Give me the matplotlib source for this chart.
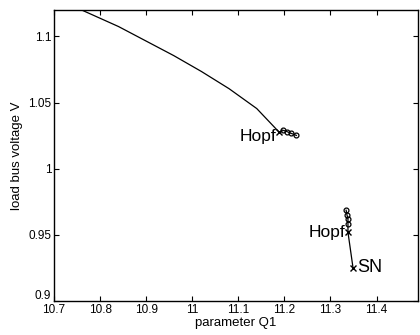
import matplotlib
matplotlib.use("Agg")
import matplotlib.pyplot as plt
from matplotlib.transforms import offset_copy, ScaledTranslation

plt.rcParams['font.family'] = ['Liberation Sans', 'DejaVu Sans']

# upper branch (continuation curve)
upper_q = [10.76, 10.84, 10.90, 10.96, 11.02, 11.08, 11.14, 11.189]
upper_v = [1.12, 1.1075, 1.0965, 1.0855, 1.0735, 1.0605, 1.0455, 1.0275]
# oscillation circles after upper Hopf
upper_circ_q = [11.198, 11.206, 11.215, 11.226]
upper_circ_v = [1.029, 1.028, 1.0267, 1.0252]
hopf1 = (11.189, 1.0275)

# lower branch
lower_circ_q = [11.334, 11.336, 11.338, 11.338]
lower_circ_v = [0.9686, 0.9649, 0.962, 0.958]
hopf2 = (11.338, 0.952)
sn = (11.349, 0.925)

xticks = [10.7, 10.8, 10.9, 11.0, 11.1, 11.2, 11.3, 11.4]
xticklabels = ["10.7", "10.8", "10.9", "11", "11.1", "11.2", "11.3", "11.4"]
yticks = [0.9, 0.95, 1.0, 1.05, 1.1]
yticklabels = ["0.9", "0.95", "1", "1.05", "1.1"]

fig = plt.figure(figsize=(4.2, 3.35), dpi=100)
ax = fig.add_axes([54/420, 34/335, (418-54)/420, (301-10)/335])

ax.plot(upper_q + upper_circ_q, upper_v + upper_circ_v, color='black', lw=0.9)
ax.plot(upper_circ_q, upper_circ_v, 'o', mfc='none', mec='black', ms=3.5, mew=0.9)
ax.plot([hopf1[0]], [hopf1[1]], 'x', color='black', ms=5, mew=1.0)

ax.plot(lower_circ_q + [hopf2[0], sn[0]], lower_circ_v + [hopf2[1], sn[1]], color='black', lw=0.9)
ax.plot(lower_circ_q, lower_circ_v, 'o', mfc='none', mec='black', ms=3.5, mew=0.9)
ax.plot([hopf2[0]], [hopf2[1]], 'x', color='black', ms=5, mew=1.0)
ax.plot([sn[0]], [sn[1]], 'x', color='black', ms=5, mew=1.0)

t1 = offset_copy(ax.transData, fig=fig, x=-3, y=-4, units='dots')
ax.text(hopf1[0], hopf1[1], "Hopf", transform=t1, ha='right', va='center', fontsize=12.5)
t2 = offset_copy(ax.transData, fig=fig, x=-3, y=0, units='dots')
ax.text(hopf2[0], hopf2[1], "Hopf", transform=t2, ha='right', va='center', fontsize=12.5)
t3 = offset_copy(ax.transData, fig=fig, x=4, y=0, units='dots')
ax.text(sn[0], sn[1], "SN", transform=t3, ha='left', va='center', fontsize=13)

ax.set_xlim(10.7, 11.49)
ax.set_ylim(0.9, 1.12)
ax.set_xticks(xticks)
ax.set_xticklabels(xticklabels)
ax.set_yticks(yticks)
ax.set_yticklabels(yticklabels)
ax.tick_params(direction='in', top=True, right=True, length=3.5, width=0.8,
               labelsize=8.5, pad=2)
for s in ax.spines.values():
    s.set_linewidth(1.0)

# lift the bottom y tick label slightly, as in the reference
lbl = ax.get_yticklabels()[0]
lbl.set_transform(lbl.get_transform() + ScaledTranslation(0, 5/72, fig.dpi_scale_trans))

ax.set_xlabel("parameter Q1", fontsize=9.5, labelpad=1)
ax.set_ylabel("load bus voltage V", fontsize=9.5, labelpad=4)

fig.savefig("out.png", dpi=100)
